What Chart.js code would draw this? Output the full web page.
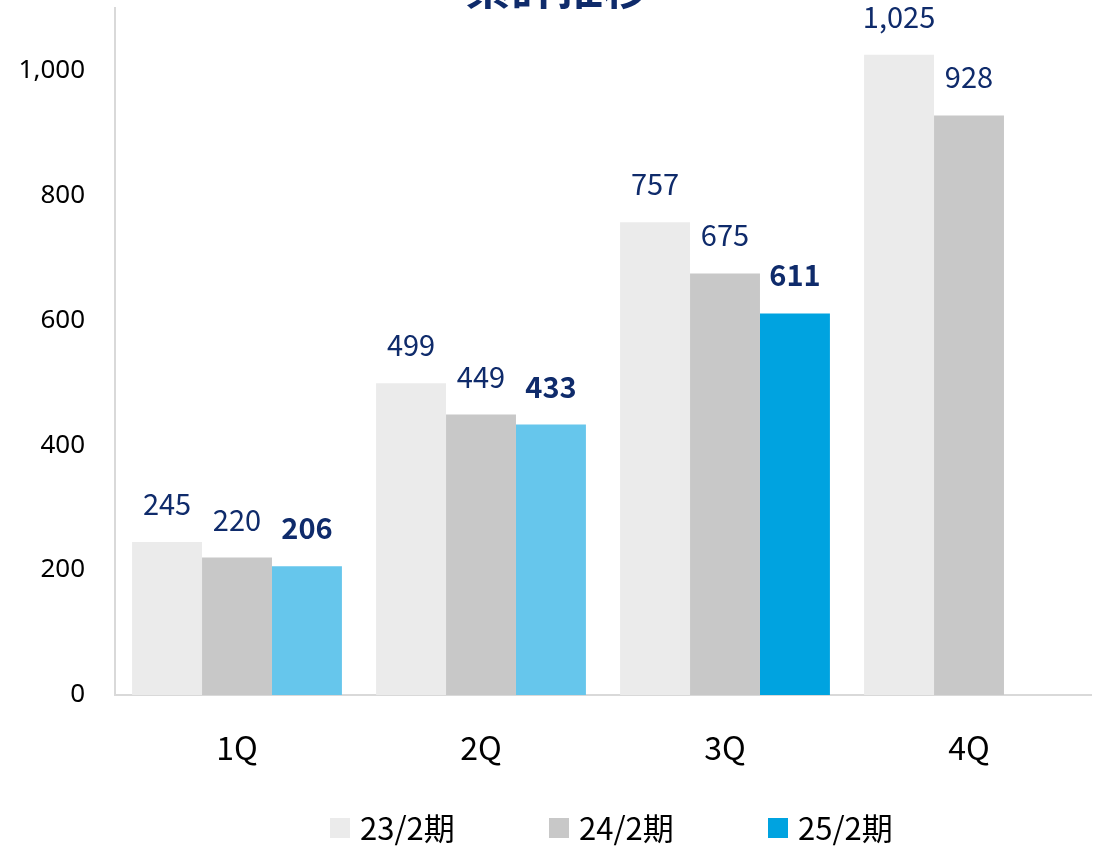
<!DOCTYPE html>
<html>
<head>
<meta charset="utf-8">
<script src="https://cdn.jsdelivr.net/npm/chart.js@4"></script>
<style>
  html, body { margin: 0; padding: 0; background: #fff; overflow: hidden; }
  #wrap { width: 1102px; height: 851px; }
</style>
</head>
<body>
<div id="wrap"><canvas id="chartRuikei"></canvas></div>
<script>
// datos
var quarters = ["1Q", "2Q", "3Q", "4Q"];
var seriesNames = ["23/2期", "24/2期", "25/2期"];
var values23 = [245, 499, 757, 1025];
var values24 = [220, 449, 675, 928];
var values25 = [206, 433, 611, null];
var yTicks = [0, 200, 400, 600, 800, 1000];
var titleText = "累計推移";

var navy = "#0f2b6b";
var colores25 = ["#66c6ec", "#66c6ec", "#00a3e0", "#00a3e0"];
var coloresLeyenda = ["#ebebeb", "#c8c8c8", "#00a3e0"];

var CJK = "'Noto Sans CJK JP', 'Noto Sans', sans-serif";

// titulo cortado arriba, etiquetas encima de las barras y leyenda abajo
var etiquetasPlugin = {
    id: "etiquetas",
    afterDatasetsDraw: function(chart) {
        var ctx = chart.ctx;
        ctx.save();
        ctx.fillStyle = navy;
        ctx.textAlign = "center";
        ctx.textBaseline = "alphabetic";
        ctx.font = "bold 46px " + CJK;
        ctx.fillText(titleText, 557, 4);

        chart.data.datasets.forEach(function(ds, i) {
            var meta = chart.getDatasetMeta(i);
            meta.data.forEach(function(bar, j) {
                var v = ds.data[j];
                if (v === null) return;
                ctx.font = (i == 2 ? "bold " : "") + "29px " + CJK;
                ctx.fillText(v.toLocaleString("en-US"), bar.x, bar.y - 27);
            });
        });

        // leyenda
        ctx.font = "31px " + CJK;
        ctx.textAlign = "left";
        ctx.textBaseline = "middle";
        chart.data.datasets.forEach(function(ds, i) {
            var x0 = 330 + i * 219;
            ctx.fillStyle = coloresLeyenda[i];
            ctx.fillRect(x0, 818, 20, 20);
            ctx.fillStyle = "#000";
            ctx.fillText(ds.label, x0 + 30, 828);
        });
        ctx.restore();
    }
};

new Chart(document.getElementById("chartRuikei"), {
    type: "bar",
    data: {
        labels: quarters,
        datasets: [{
            label: seriesNames[0],
            data: values23,
            backgroundColor: "#ebebeb"
        }, {
            label: seriesNames[1],
            data: values24,
            backgroundColor: "#c8c8c8"
        }, {
            label: seriesNames[2],
            data: values25,
            backgroundColor: colores25
        }]
    },
    options: {
        responsive: true,
        maintainAspectRatio: false,
        animation: false,
        devicePixelRatio: 1,
        layout: { padding: { top: 8, right: 11, bottom: 76, left: 0 } },
        datasets: {
            bar: { categoryPercentage: 0.86, barPercentage: 1.0 }
        },
        plugins: {
            title: { display: false },
            tooltip: { enabled: false },
            legend: { display: false }
        },
        scales: {
            x: {
                afterFit: function(scale) {
                    scale.height = 80;
                    scale.paddingLeft = 0;
                    scale.paddingRight = 0;
                },
                grid: { display: false, drawTicks: false },
                border: { color: "#d9d9d9", width: 2 },
                ticks: { color: "#000", font: { family: CJK, size: 32 }, padding: 34 }
            },
            y: {
                min: 0,
                max: 1100,
                afterFit: function(scale) {
                    scale.width = 115;
                    scale.paddingTop = 0;
                    scale.paddingBottom = 0;
                },
                afterBuildTicks: function(scale) {
                    scale.ticks = yTicks.map(function(v) { return { value: v }; });
                },
                grid: { display: false, drawTicks: false },
                border: { color: "#d9d9d9", width: 2 },
                ticks: {
                    color: "#000",
                    font: { family: "'Noto Sans', sans-serif", size: 26 },
                    padding: 30,
                    callback: function(v) { return v.toLocaleString("en-US"); }
                }
            }
        }
    },
    plugins: [etiquetasPlugin]
});
</script>
</body>
</html>
